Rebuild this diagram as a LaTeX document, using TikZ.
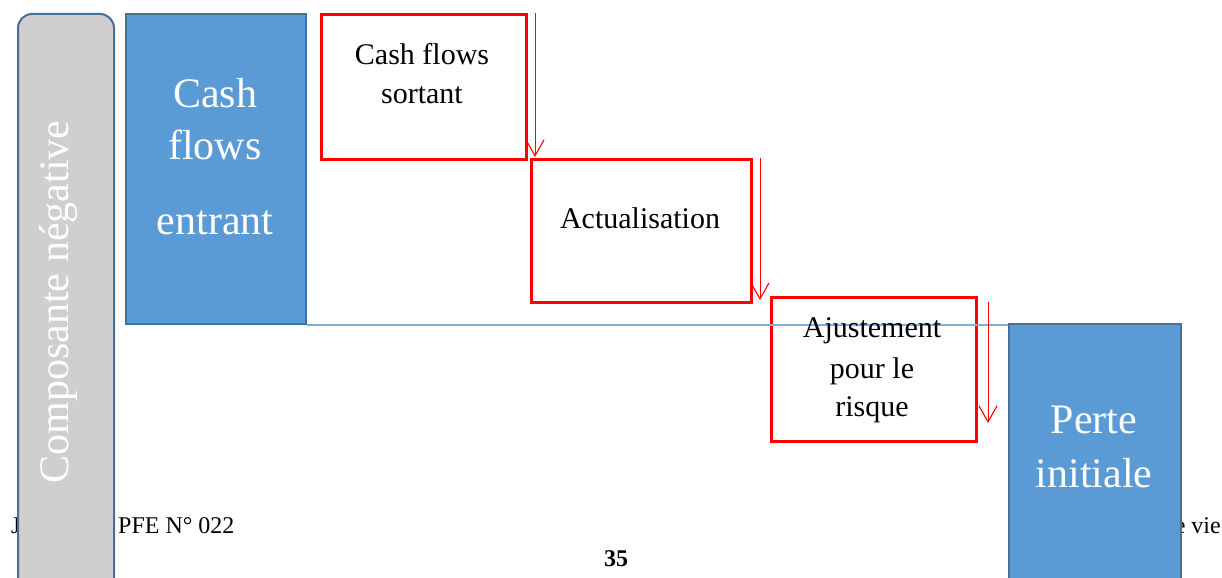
\documentclass[tikz,border=0pt]{standalone}
\usepackage{fontspec}
\setmainfont{Liberation Serif}
\usetikzlibrary{arrows.meta}
\definecolor{boxblue}{HTML}{5B9BD5}
\definecolor{edgeblue}{HTML}{41719C}
\definecolor{panelgray}{HTML}{D0CECE}
\definecolor{linkblue}{HTML}{7FAEDC}
\begin{document}
\begin{tikzpicture}[x=1bp,y=-1bp,
  bluebox/.style={draw=edgeblue, fill=boxblue, line width=2bp, anchor=north west, inner sep=0pt},
  graypanel/.style={draw=edgeblue, fill=panelgray, line width=2bp, rounded corners=14bp, anchor=north west, inner sep=0pt},
  redbox/.style={draw=red, fill=white, line width=2.6bp, anchor=north west, inner sep=0pt},
  redarrow/.style={draw=red, line width=1bp, -{Straight Barb[length=16bp,width=18bp,line width=1.1bp]}},
  bigwhite/.style={text=white, font=\fontsize{42bp}{52bp}\selectfont, anchor=base, inner sep=0pt},
  steptext/.style={text=black, font=\fontsize{30bp}{40bp}\selectfont, anchor=base, inner sep=0pt},
  foot/.style={text=black, font=\fontsize{24bp}{28bp}\selectfont, inner sep=0pt}]
\clip (0,0) rectangle (1222,578);
\fill[white] (0,0) rectangle (1222,578);

% page footer, partly hidden by the columns
\node[foot, anchor=base west] (fj) at (11,533) {J};
\node[foot, anchor=base west] (fpfe) at (118,533) {PFE N° 022};
\node[foot, anchor=base east] (fvie) at (1221,533) {e vie};
\node[foot, anchor=base, font=\bfseries\fontsize{24bp}{28bp}\selectfont] (fpage) at (616,566) {35};

% negative component column
\node[graypanel, minimum width=96bp, minimum height=600bp] (neg) at (17,13) {};
\node[bigwhite, rotate=90] (negtxt) at (68,302) {Composante négative};

% incoming cash flows
\node[bluebox, minimum width=180bp, minimum height=310bp] (cf) at (125,13) {};
\node[bigwhite] (cf1) at (215,108) {Cash};
\node[bigwhite] (cf2) at (215,160) {flows};
\node[bigwhite] (cf3) at (215,235) {entrant};

% steps
\node[redbox, minimum width=205bp, minimum height=145bp] (s1) at (320,13) {};
\node[steptext] (s1a) at (422,65) {Cash flows};
\node[steptext] (s1b) at (422,104) {sortant};

\node[redbox, minimum width=220bp, minimum height=143bp] (s2) at (530,158) {};
\node[steptext] (s2a) at (640,229) {Actualisation};

\node[redbox, minimum width=205bp, minimum height=144bp] (s3) at (770,296) {};

% initial loss column and the level line that joins it
\node[bluebox, minimum width=172bp, minimum height=300bp] (perte) at (1008,323) {};
\draw[linkblue, line width=1.3bp] (cf.south east) -- (cf.south east -| perte.west);

\node[steptext] (s3a) at (872,338) {Ajustement};
\node[steptext] (s3b) at (872,378) {pour le};
\node[steptext] (s3c) at (872,416) {risque};

% descending arrows
\coordinate (a1s) at (535,13);
\coordinate (a1e) at (535,157);
\coordinate (a2s) at (760,158);
\coordinate (a2e) at (760,300);
\coordinate (a3s) at (988,302);
\coordinate (a3e) at (988,423);
\draw[redarrow] (a1s) -- (a1e);
\draw[redarrow] (a2s) -- (a2e);
\draw[redarrow] (a3s) -- (a3e);

\node[bigwhite] (p1) at (1094,433) {Perte};
\node[bigwhite] (p2) at (1094,487) {initiale};
\end{tikzpicture}
\end{document}
